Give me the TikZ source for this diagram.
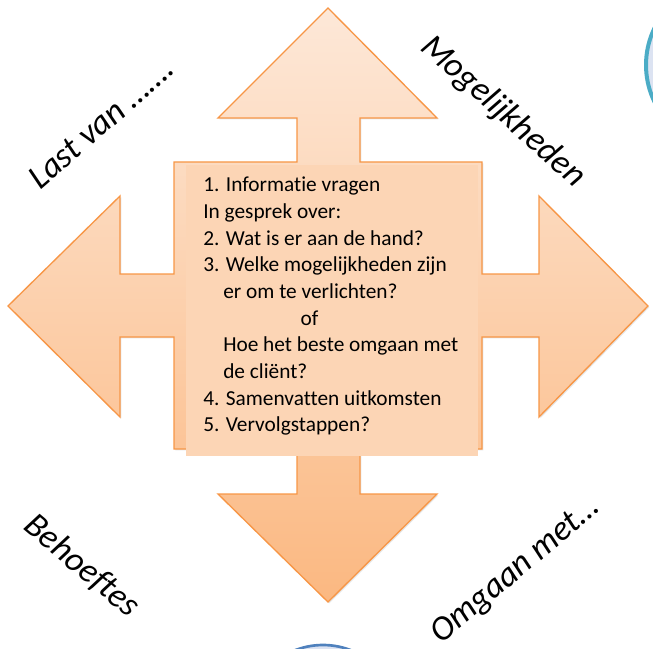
\documentclass[tikz,border=0pt]{standalone}
\usepackage{fontspec}
\setmainfont{Carlito}[Ligatures=NoCommon]
\usetikzlibrary{shadows}
\definecolor{arrowline}{HTML}{F79646}
\definecolor{arrowtop}{HTML}{FDE8D8}
\definecolor{arrowbottom}{HTML}{FBB881}
\definecolor{boxfill}{HTML}{FCD5B5}
\definecolor{tealline}{HTML}{4BACC6}
\definecolor{bluefill}{HTML}{DCE3F2}
\definecolor{blueline}{HTML}{4F81BD}
\begin{document}
\begin{tikzpicture}[x=0.75pt, y=-0.75pt,
		corner/.style={font=\fontsize{26}{30}\selectfont\itshape, inner sep=0pt},
		steps/.style={font=\fontsize{16}{20}\selectfont, align=left, inner sep=0pt, anchor=north west}]
			\useasboundingbox (0,0) rectangle (653,649);
			\clip (0,0) rectangle (653,649);
			% circles at the edge
			\draw[tealline, line width=3pt, fill=bluefill] (730,65) circle (84);
			\draw[blueline, line width=2pt, fill=bluefill] (323,722) circle (77);
			% four way arrow
			\draw[arrowline, line width=1pt, line join=miter, top color=arrowtop, bottom color=arrowbottom,
				drop shadow={opacity=0.2, shadow xshift=1pt, shadow yshift=-1pt}]
				(328,8) -- (437,118) -- (360,118) -- (360,162) -- (482,162) -- (482,274) -- (539,274)
				-- (539,196) -- (648,306) -- (539,417) -- (539,337) -- (482,337) -- (482,449)
				-- (360,449) -- (360,494) -- (437,494) -- (328,602) -- (218,494) -- (297,494)
				-- (297,449) -- (174,449) -- (174,337) -- (120,337) -- (120,417) -- (8,306)
				-- (120,196) -- (120,274) -- (174,274) -- (174,162) -- (297,162) -- (297,118)
				-- (218,118) -- cycle;
			% text box
			\fill[boxfill] (186,165) rectangle (478,456);
			\node[steps] (info) at (203,177) {1. Informatie vragen\\
				In gesprek over:\\
				2. Wat is er aan de hand?\\
				3. Welke mogelijkheden zijn\\
				\hspace*{15pt}er om te verlichten?\\
				\hspace*{73pt}of\\
				\hspace*{15pt}Hoe het beste omgaan met\\
				\hspace*{15pt}de cliënt?\\
				4. Samenvatten uitkomsten\\
				5. Vervolgstappen?};
			% labels
			\node[corner, rotate=41] (last) at (101,123) {Last van …….};
			\node[corner, rotate=-42] (moge) at (503,112) {Mogelijkheden};
			\node[corner, rotate=-40] (behoefte) at (82,566) {Behoeftes};
			\node[corner, rotate=40] (omgaan) at (516,571) {Omgaan met…};
		\end{tikzpicture}
\end{document}
